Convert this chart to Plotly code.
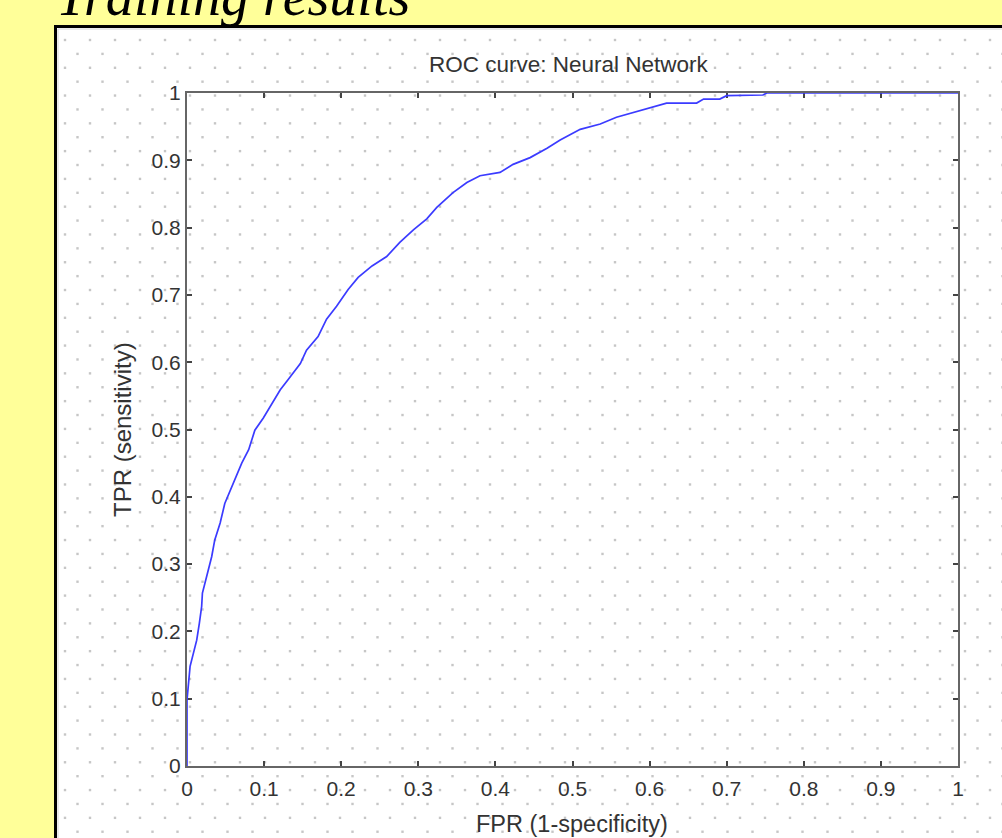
import numpy as np
import plotly.graph_objects as go

W, H = 1002, 838

# ---------------- data ----------------
fpr = [0, 0, 0.004, 0.008, 0.0126, 0.016, 0.019, 0.020, 0.0255, 0.032, 0.036,
       0.043, 0.049, 0.060, 0.071, 0.080, 0.088, 0.099, 0.110, 0.121, 0.131,
       0.147, 0.155, 0.170, 0.181, 0.194, 0.209, 0.222, 0.240, 0.259, 0.276,
       0.294, 0.311, 0.324, 0.345, 0.363, 0.380, 0.406, 0.423, 0.445, 0.467,
       0.484, 0.510, 0.536, 0.557, 0.579, 0.601, 0.622, 0.661, 0.670, 0.691,
       0.700, 0.747, 0.752, 1.0]
tpr = [0, 0.098, 0.148, 0.168, 0.187, 0.212, 0.237, 0.257, 0.281, 0.311, 0.336,
       0.361, 0.390, 0.420, 0.450, 0.470, 0.499, 0.517, 0.539, 0.559, 0.574,
       0.598, 0.618, 0.638, 0.664, 0.683, 0.708, 0.726, 0.743, 0.757, 0.778,
       0.797, 0.813, 0.830, 0.852, 0.867, 0.877, 0.882, 0.894, 0.904, 0.918,
       0.930, 0.946, 0.954, 0.964, 0.971, 0.978, 0.985, 0.985, 0.991, 0.991,
       0.996, 0.997, 1.0, 1.0]

tick_vals = [0, 0.1, 0.2, 0.3, 0.4, 0.5, 0.6, 0.7, 0.8, 0.9, 1]
tick_text = ["0", "0.1", "0.2", "0.3", "0.4", "0.5", "0.6", "0.7", "0.8", "0.9", "1"]

page_title = "Training results"
chart_title = "ROC curve: Neural Network"
x_label = "FPR (1-specificity)"
y_label = "TPR (sensitivity)"

# ---------------- geometry (pixels) ----------------
PL, PR, PT, PB = 187, 958, 93, 766


def fx(x):
    return x / W


def fy(y):
    return 1 - y / H


# dotted background texture of the pasted image
dots_x, dots_y = [], []
for k, yy in enumerate(np.arange(40, H + 5, 13.89)):
    start = 65 if k % 2 == 0 else 77.5
    xs = np.arange(start, W + 5, 25)
    dots_x.extend(xs.tolist())
    dots_y.extend([float(yy)] * len(xs))

fig = go.Figure()
fig.add_trace(go.Scatter(
    x=dots_x, y=dots_y, mode="markers", xaxis="x", yaxis="y",
    marker=dict(symbol="square", size=2.4, color="#c6c6c6", line_width=0),
    hoverinfo="skip", showlegend=False))
fig.add_trace(go.Scatter(
    x=fpr, y=tpr, mode="lines", xaxis="x2", yaxis="y2",
    line=dict(color="#3b3bff", width=1.7), cliponaxis=False,
    showlegend=False, name="ROC"))

tickfont = dict(family="Liberation Sans, Arial, sans-serif", size=21, color="#333333")
axis_common = dict(
    range=[0, 1], tickvals=tick_vals, ticktext=tick_text,
    ticks="inside", ticklen=5, tickwidth=1.5, tickcolor="#444444",
    showline=True, linecolor="#666666", linewidth=2, mirror="ticks",
    showgrid=False, zeroline=False, layer="below traces",
    tickfont=tickfont, fixedrange=True, automargin=False)

label_font = dict(family="Liberation Sans, Arial, sans-serif", color="#333333")

fig.update_layout(
    width=W, height=H, autosize=False,
    margin=dict(l=0, r=0, t=0, b=0, pad=0, autoexpand=False),
    paper_bgcolor="#FFFF99",
    plot_bgcolor="rgba(0,0,0,0)",
    showlegend=False,
    xaxis=dict(domain=[0, 1], range=[0, W], visible=False, fixedrange=True, automargin=False),
    yaxis=dict(domain=[0, 1], range=[H, 0], visible=False, fixedrange=True, automargin=False),
    xaxis2=dict(domain=[fx(PL), fx(PR)], anchor="y2", ticklabelstandoff=3, **axis_common),
    yaxis2=dict(domain=[fy(PB), fy(PT)], anchor="x2", **axis_common),
    shapes=[
        dict(type="rect", xref="paper", yref="paper", x0=fx(55.5), y0=fy(26.5), x1=1.05, y1=-0.05,
             fillcolor="white", line=dict(color="black", width=3), layer="below"),
        dict(type="rect", xref="paper", yref="paper", x0=fx(58), y0=fy(29), x1=1.05, y1=-0.05,
             fillcolor="rgba(0,0,0,0)", line=dict(color="#d6d6d6", width=1), layer="below"),
    ],
    annotations=[
        dict(text="<i>" + page_title + "</i>", xref="paper", yref="paper", x=fx(55), y=fy(28),
             xanchor="left", yanchor="bottom", showarrow=False, borderpad=0,
             font=dict(family="Liberation Serif, Times New Roman, serif", size=56, color="black")),
        dict(text=chart_title, xref="paper", yref="paper", x=fx(569), y=fy(64),
             xanchor="center", yanchor="middle", showarrow=False,
             font=dict(size=22.5, **label_font)),
        dict(text=x_label, xref="paper", yref="paper", x=fx(572), y=fy(824),
             xanchor="center", yanchor="middle", showarrow=False,
             font=dict(size=23.5, **label_font)),
        dict(text=y_label, xref="paper", yref="paper", x=fx(122), y=fy(430), textangle=-90,
             xanchor="center", yanchor="middle", showarrow=False,
             font=dict(size=24, **label_font)),
    ],
)

fig.write_html("out.html", config={"displayModeBar": False})
